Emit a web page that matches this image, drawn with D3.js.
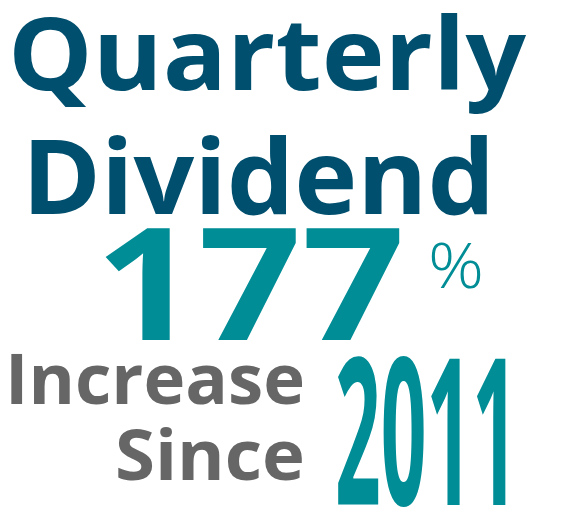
<!DOCTYPE html>
<html><head><meta charset="utf-8">
<script src="https://cdn.jsdelivr.net/npm/d3@7"></script>
<style>body{margin:0;background:#fff}</style>
</head><body>
<script>
// text lines of the graphic
const words = ["Quarterly", "Dividend", "177", "%", "Increase", "Since", "2011"];
const colors = ["#004f6e", "#004f6e", "#008d96", "#008d96", "#666666", "#666666", "#008d96"];
const sizes = [100, 104, 157, 62, 70, 70, 205];
const weights = [700, 700, 700, 300, 700, 700, 700];
// x, baseline y, width
const xs = [8, 22, 95, 428, 5, 115, 335];
const ys = [90, 214, 340, 288, 404, 480, 505];
const widths = [518, 473, 310, 56, 300, 190, 183];

const svg = d3.select("body").append("svg").attr("width", 564).attr("height", 531);

svg.selectAll("text").data(words)
  .join("text")
    .attr("x", (_, i) => xs[i])
    .attr("y", (_, i) => ys[i])
    .attr("textLength", (_, i) => widths[i])
    .attr("lengthAdjust", "spacingAndGlyphs")
    .attr("font-family", "'Open Sans', sans-serif")
    .attr("font-size", (_, i) => sizes[i])
    .attr("font-weight", (_, i) => weights[i])
    .attr("fill", (_, i) => colors[i])
    .text(d => d);
</script>
</body></html>
